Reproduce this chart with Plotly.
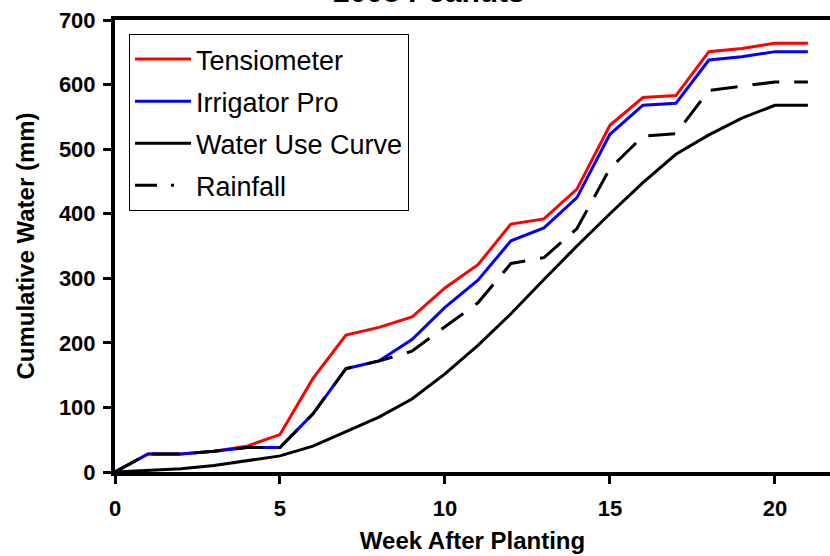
import plotly.graph_objects as go

weeks = list(range(0, 22))
tensiometer = [0, 28, 28, 32, 40, 58, 145, 212, 224, 240, 285, 321, 384, 392, 438, 537, 580, 583, 651, 656, 664, 664]
irrigator_pro = [0, 28, 28, 32, 38, 38, 90, 160, 172, 205, 255, 297, 358, 378, 425, 523, 568, 571, 638, 643, 651, 651]
water_use = [0, 2, 5, 10, 17, 25, 40, 62, 85, 113, 152, 196, 245, 298, 350, 400, 448, 492, 522, 548, 568, 568]
rainfall = [0, 28, 28, 32, 38, 38, 90, 160, 172, 187, 225, 262, 323, 332, 377, 470, 520, 524, 591, 597, 604, 604]

x_ticks = [0, 5, 10, 15, 20]
y_ticks = [0, 100, 200, 300, 400, 500, 600, 700]

FONT = "Liberation Sans, Arial, sans-serif"

fig = go.Figure()
fig.add_trace(go.Scatter(x=weeks, y=tensiometer, mode="lines", name="Tensiometer",
                         line=dict(color="#ff0000", width=3), legendgroup="a"))
fig.add_trace(go.Scatter(x=weeks, y=irrigator_pro, mode="lines", name="Irrigator Pro",
                         line=dict(color="#0000ff", width=3), legendgroup="b"))
fig.add_trace(go.Scatter(x=weeks, y=water_use, mode="lines", name="Water Use Curve",
                         line=dict(color="#000000", width=3), legendgroup="c"))
fig.add_trace(go.Scatter(x=weeks, y=rainfall, mode="lines", name="Rainfall",
                         line=dict(color="#000000", width=3, dash="27px,15px"),
                         legendgroup="d", showlegend=False))
# legend-only entry for rainfall (shows dash-gap-dot sample like the original)
fig.add_trace(go.Scatter(x=[None], y=[None], mode="lines", name="Rainfall",
                         line=dict(color="#000000", width=3, dash="22px,14px,3px,100px"),
                         legendgroup="d"))

fig.update_layout(
    width=830, height=556,
    margin=dict(l=115, r=0, t=20, b=84),
    paper_bgcolor="white", plot_bgcolor="white",
    font=dict(family=FONT, color="black"),
    showlegend=True,
    legend=dict(x=0.0196, y=0.969, xanchor="left", yanchor="top",
                bordercolor="black", borderwidth=1, bgcolor="white",
                font=dict(size=27, family=FONT), tracegroupgap=4,
                itemwidth=56, traceorder="grouped"),
    annotations=[dict(text="<b>2008 Peanuts</b>", xref="paper", yref="paper",
                      x=0.439, y=1.023, xanchor="center", yanchor="bottom",
                      showarrow=False, font=dict(size=30, family=FONT))],
)
fig.update_xaxes(range=[0, 21.67], tickvals=x_ticks, ticks="outside", ticklen=8, tickwidth=3,
                 tickcolor="black", showline=True, linecolor="black", linewidth=4, mirror=True,
                 showgrid=False, zeroline=False,
                 tickfont=dict(size=22, family=FONT, weight="bold"), ticklabelstandoff=6,
                 title=dict(text="<b>Week After Planting</b>", font=dict(size=24, family=FONT), standoff=13))
fig.update_yaxes(range=[0, 700], tickvals=y_ticks, ticks="outside", ticklen=8, tickwidth=3,
                 tickcolor="black", showline=True, linecolor="black", linewidth=4,
                 showgrid=False, zeroline=False,
                 tickfont=dict(size=22, family=FONT, weight="bold"), ticklabelstandoff=3,
                 title=dict(text="<b>Cumulative Water (mm)</b>", font=dict(size=24, family=FONT), standoff=18))

fig.write_html("out.html", config={"displayModeBar": False},
               post_script="document.body.style.margin='0';document.body.style.overflow='hidden';")
